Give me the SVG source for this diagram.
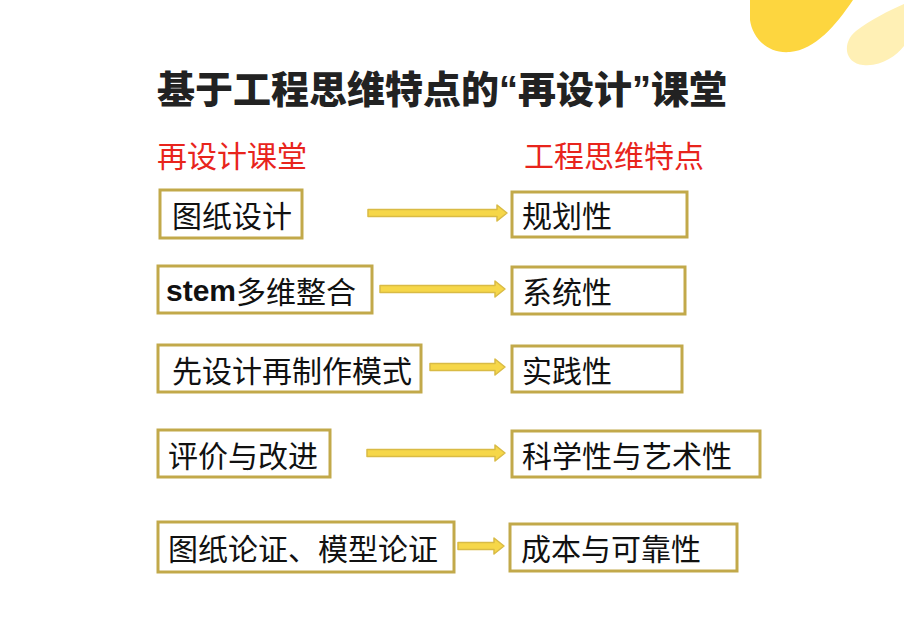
<svg xmlns="http://www.w3.org/2000/svg" width="904" height="636" viewBox="0 0 904 636">
<style>
.box{fill:#ffffff;stroke:#c2a94a;stroke-width:3}
.t{font-family:"Noto Sans CJK SC","Liberation Sans",sans-serif;font-size:30px;fill:#111111;dominant-baseline:central}
.lat{font-family:"Liberation Sans",Arial,sans-serif;font-weight:bold}
.red{font-family:"Noto Sans CJK SC","Liberation Sans",sans-serif;font-size:30px;fill:#e8241c}
.title{font-family:"Noto Sans CJK SC","Liberation Sans",sans-serif;font-size:38px;font-weight:900;fill:#222222}
.q{font-family:"Liberation Sans",Arial,sans-serif;font-weight:bold}
.arr{fill:#f6d749;stroke:#d9bb45;stroke-width:1.5;stroke-linejoin:round}
</style>
<rect width="904" height="636" fill="#ffffff"/>
<path d="M750,0 L853,0 C836,25 815,50 790,52 C766,54 752,36 750,20 Z" fill="#fdd63f"/>
<path d="M904,4 C890,10 870,20 856,31 C842,42 844,63 863,65 C881,67 896,56 904,46 Z" fill="#fff0b5"/>
<text class="title" x="157" y="103" textLength="570" lengthAdjust="spacing">基于工程思维特点的<tspan class="q">“</tspan>再设计<tspan class="q">”</tspan>课堂</text>
<text class="red" x="157" y="167">再设计课堂</text>
<text class="red" x="524" y="167">工程思维特点</text>
<g id="connectors">
<path class="arr" d="M368,209.5 H497 V205 L507,213 L497,221 V216.5 H368 Z"/>
<path class="arr" d="M380,285.5 H495 V281 L505,289 L495,297 V292.5 H380 Z"/>
<path class="arr" d="M430,363.5 H495 V359 L505,367 L495,375 V370.5 H430 Z"/>
<path class="arr" d="M367,449.5 H495 V445 L505,453 L495,461 V456.5 H367 Z"/>
<path class="arr" d="M458,542.5 H494 V538 L504,546 L494,554 V549.5 H458 Z"/>
</g>
<g id="n1"><rect class="box" x="160" y="190" width="142" height="48"/><text class="t" x="172" y="214">图纸设计</text></g>
<g id="n2"><rect class="box" x="158" y="266" width="214" height="47"/><text class="t" x="166" y="290"><tspan class="lat">stem</tspan>多维整合</text></g>
<g id="n3"><rect class="box" x="158" y="345" width="263" height="47"/><text class="t" x="172" y="369">先设计再制作模式</text></g>
<g id="n4"><rect class="box" x="158" y="430" width="172" height="47"/><text class="t" x="168" y="454">评价与改进</text></g>
<g id="n5"><rect class="box" x="158" y="522" width="296" height="50"/><text class="t" x="168" y="547">图纸论证、模型论证</text></g>
<g id="m1"><rect class="box" x="512" y="192" width="175" height="45"/><text class="t" x="522" y="214">规划性</text></g>
<g id="m2"><rect class="box" x="512" y="267" width="173" height="47"/><text class="t" x="522" y="290">系统性</text></g>
<g id="m3"><rect class="box" x="512" y="346" width="170" height="46"/><text class="t" x="522" y="369">实践性</text></g>
<g id="m4"><rect class="box" x="512" y="431" width="248" height="46"/><text class="t" x="522" y="454">科学性与艺术性</text></g>
<g id="m5"><rect class="box" x="510" y="524" width="227" height="47"/><text class="t" x="521" y="547">成本与可靠性</text></g>
</svg>
